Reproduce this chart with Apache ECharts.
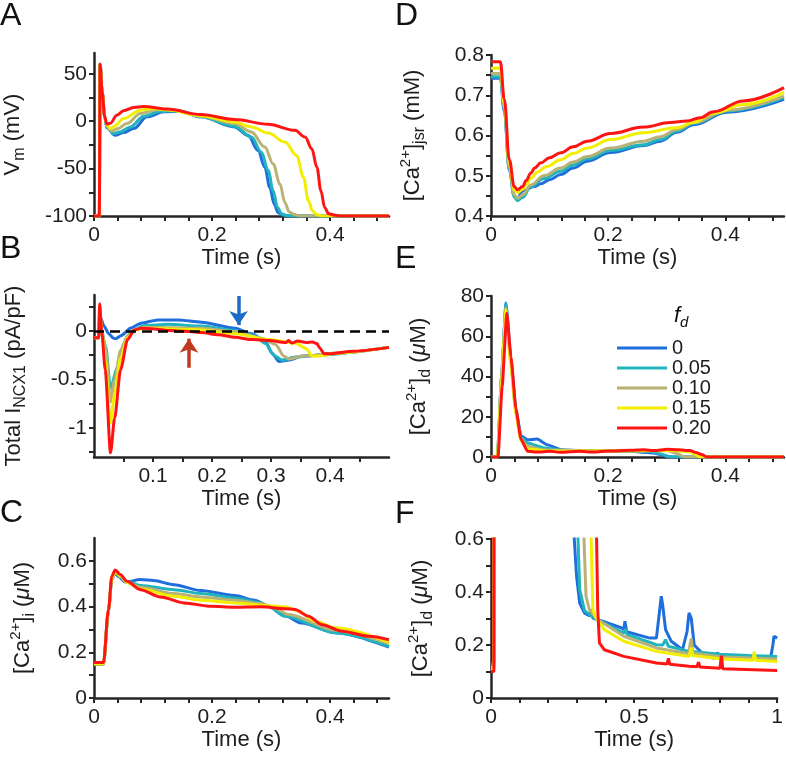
<!DOCTYPE html>
<html><head><meta charset="utf-8">
<script src="https://cdn.jsdelivr.net/npm/echarts@6/dist/echarts.min.js"></script>
<style>html,body{margin:0;padding:0;background:#fff}#c{width:786px;height:758px}</style>
</head><body><div id="c"></div>
<script>
// ---------- series names (f_d) ----------
const fdNames = ['0', '0.05', '0.10', '0.15', '0.20'];

// ---------- Panel A: Vm (mV) ----------
const A_f000 = [[0,-100],[0.009,-100],[0.0103,60],[0.014,30],[0.018,5],[0.022,-7],[0.0359,-14.9],[0.05,-12],[0.0672,-7.8],[0.09,4.6],[0.1185,9.9],[0.147,10.6],[0.1812,4.6],[0.2382,-6],[0.261,-14.9],[0.2781,-30.9],[0.2895,-48.6],[0.298,-69.9],[0.3054,-87.6],[0.3123,-96.5],[0.3208,-99.3],[0.335,-100],[0.5,-100]];
const A_f005 = [[0,-100],[0.009,-100],[0.0103,60],[0.014,30],[0.018,5],[0.022,-6],[0.033,-13],[0.045,-11],[0.0615,-6],[0.0843,5.3],[0.1128,10.6],[0.1413,11],[0.1812,4.6],[0.2382,-5.3],[0.2667,-16.7],[0.2838,-32.6],[0.2952,-52],[0.3037,-73.4],[0.3111,-91],[0.3179,-97.5],[0.3265,-99.5],[0.34,-100],[0.5,-100]];
const A_f010 = [[0,-100],[0.009,-100],[0.0103,60],[0.014,30],[0.018,5],[0.022,-5],[0.0302,-10.3],[0.04,-8],[0.0558,-2.5],[0.0786,8.2],[0.1071,12.4],[0.1356,11.7],[0.1812,5.3],[0.2382,-2.5],[0.2667,-11.3],[0.2895,-27.3],[0.3037,-45],[0.3151,-66.3],[0.3236,-85.8],[0.3305,-95.4],[0.3396,-98.5],[0.35,-100],[0.5,-100]];
const A_f015 = [[0,-100],[0.009,-100],[0.0103,60],[0.014,30],[0.018,5],[0.022,-4],[0.0274,-7.8],[0.035,-5],[0.0501,2.8],[0.0786,11.7],[0.1014,13.5],[0.1242,12],[0.1812,5.7],[0.2382,-0.7],[0.2667,-6],[0.2952,-12.4],[0.3236,-22],[0.3436,-36.2],[0.355,-59.2],[0.3635,-84],[0.3704,-94.7],[0.3778,-98.5],[0.387,-100],[0.5,-100]];
const A_f020 = [[0,-100],[0.009,-100],[0.0103,60],[0.014,30],[0.018,5],[0.0217,-3],[0.028,-2],[0.0387,6.4],[0.05,11],[0.0672,14.5],[0.0843,15.5],[0.1242,12.8],[0.1812,7],[0.2382,1.8],[0.2952,-3.2],[0.3407,-9.6],[0.3578,-16.7],[0.3692,-29],[0.3778,-48.6],[0.3846,-73.4],[0.3909,-91],[0.3977,-97.5],[0.4091,-99.3],[0.42,-100],[0.5,-100]];

// ---------- Panel B: total I_NCX1 (pA/pF) ----------
const B_f000 = [[0,-0.07],[0.008,-0.07],[0.0096,0.15],[0.012,0.12],[0.017,0.05],[0.025,-0.03],[0.033,-0.075],[0.0369,-0.08],[0.0455,-0.05],[0.0626,0.03],[0.0797,0.08],[0.1082,0.113],[0.1424,0.113],[0.1822,0.09],[0.2392,0.027],[0.2677,-0.03],[0.2905,-0.11],[0.3019,-0.23],[0.3133,-0.315],[0.3304,-0.3],[0.3532,-0.26],[0.4101,-0.23],[0.5,-0.17]];
const B_f005 = [[0,-0.07],[0.008,-0.07],[0.0096,0.2],[0.0113,0.045],[0.0198,-0.16],[0.028,-0.59],[0.0398,-0.37],[0.0512,-0.13],[0.0626,-0.007],[0.0854,0.055],[0.1253,0.068],[0.1822,0.05],[0.2392,0.003],[0.2734,-0.05],[0.2905,-0.13],[0.3047,-0.25],[0.319,-0.3],[0.3418,-0.27],[0.3817,-0.25],[0.5,-0.17]];
const B_f010 = [[0,-0.07],[0.008,-0.07],[0.0096,0.22],[0.013,0.0],[0.02,-0.2],[0.028,-0.73],[0.035,-0.5],[0.045,-0.2],[0.0569,-0.05],[0.0683,0.01],[0.0854,0.038],[0.1822,0.027],[0.2392,-0.007],[0.2848,-0.075],[0.3076,-0.14],[0.3219,-0.26],[0.3304,-0.29],[0.3532,-0.26],[0.4101,-0.23],[0.5,-0.17]];
const B_f015 = [[0,-0.07],[0.008,-0.07],[0.0096,0.25],[0.013,0.0],[0.019,-0.3],[0.028,-0.95],[0.035,-0.65],[0.045,-0.28],[0.0569,-0.07],[0.0683,0.01],[0.0854,0.027],[0.1822,0.01],[0.2392,-0.03],[0.2962,-0.09],[0.3418,-0.127],[0.3589,-0.18],[0.3703,-0.26],[0.3817,-0.26],[0.4101,-0.23],[0.5,-0.17]];
const B_f020 = [[0,-0.07],[0.008,-0.07],[0.0096,0.28],[0.013,0.0],[0.019,-0.4],[0.028,-1.257],[0.035,-0.9],[0.045,-0.4],[0.0569,-0.09],[0.0683,0.01],[0.0797,0.027],[0.1024,0.02],[0.1253,0.003],[0.1612,-0.005],[0.1822,-0.017],[0.2107,-0.04],[0.2392,-0.065],[0.2677,-0.09],[0.2962,-0.1],[0.3247,-0.12],[0.33,-0.1],[0.335,-0.125],[0.345,-0.105],[0.36,-0.12],[0.37,-0.115],[0.378,-0.13],[0.3817,-0.17],[0.3902,-0.236],[0.3988,-0.236],[0.4386,-0.21],[0.5,-0.17]];
// annotation arrows in panel B: [x, yStart, yEnd]
const B_arrowBlue = [0.245, 0.36, 0.06];
const B_arrowRed = [0.161, -0.38, -0.08];

// ---------- Panel C: [Ca2+]i (uM) ----------
const C_f000 = [[0,0.147],[0.016,0.147],[0.0245,0.38],[0.0302,0.52],[0.0359,0.545],[0.042,0.53],[0.053,0.507],[0.0786,0.518],[0.101,0.514],[0.1356,0.496],[0.181,0.47],[0.2382,0.448],[0.2724,0.428],[0.2952,0.401],[0.3236,0.36],[0.3521,0.328],[0.4091,0.285],[0.5,0.223]];
const C_f005 = [[0,0.148],[0.016,0.148],[0.0245,0.38],[0.0302,0.52],[0.0359,0.548],[0.045,0.53],[0.0558,0.51],[0.0786,0.492],[0.1356,0.474],[0.181,0.457],[0.2382,0.438],[0.2838,0.416],[0.2952,0.401],[0.3236,0.358],[0.4091,0.285],[0.5,0.226]];
const C_f010 = [[0,0.148],[0.016,0.148],[0.0245,0.38],[0.0302,0.52],[0.0359,0.55],[0.045,0.53],[0.0558,0.505],[0.0786,0.485],[0.1356,0.457],[0.181,0.442],[0.2382,0.428],[0.2838,0.412],[0.3066,0.394],[0.329,0.365],[0.4091,0.296],[0.5,0.238]];
const C_f015 = [[0,0.15],[0.016,0.15],[0.0245,0.385],[0.0302,0.525],[0.0359,0.555],[0.045,0.535],[0.0558,0.505],[0.0786,0.477],[0.1356,0.445],[0.181,0.428],[0.2382,0.416],[0.2952,0.404],[0.3236,0.399],[0.3464,0.38],[0.3749,0.336],[0.4091,0.307],[0.5,0.244]];
const C_f020 = [[0,0.155],[0.016,0.155],[0.0245,0.387],[0.0302,0.533],[0.0359,0.56],[0.0444,0.54],[0.0558,0.511],[0.0786,0.474],[0.1128,0.442],[0.1527,0.416],[0.1983,0.401],[0.2382,0.397],[0.2838,0.399],[0.3236,0.391],[0.3407,0.387],[0.3635,0.358],[0.3863,0.321],[0.4205,0.292],[0.466,0.27],[0.5,0.255]];

// ---------- Panel D: [Ca2+]jsr (mM) ----------
const D_f000 = [[0,0.742],[0.0159,0.742],[0.0227,0.66],[0.0312,0.515],[0.0397,0.45],[0.0453,0.443],[0.0538,0.462],[0.0737,0.473],[0.085,0.48],[0.1,0.49],[0.119,0.503],[0.14,0.519],[0.1643,0.536],[0.204,0.558],[0.2606,0.575],[0.289,0.586],[0.3173,0.608],[0.3456,0.627],[0.4023,0.658],[0.5,0.69]];
const D_f005 = [[0,0.746],[0.0159,0.746],[0.0227,0.665],[0.0312,0.515],[0.0397,0.447],[0.0453,0.438],[0.0538,0.446],[0.068,0.473],[0.09,0.493],[0.119,0.511],[0.14,0.527],[0.1643,0.542],[0.204,0.563],[0.2606,0.577],[0.289,0.59],[0.3173,0.611],[0.3456,0.63],[0.4023,0.661],[0.5,0.694]];
const D_f010 = [[0,0.754],[0.0159,0.754],[0.0227,0.67],[0.0312,0.52],[0.0397,0.452],[0.0453,0.444],[0.0538,0.452],[0.068,0.477],[0.09,0.5],[0.119,0.519],[0.14,0.534],[0.1643,0.548],[0.204,0.569],[0.2606,0.586],[0.289,0.597],[0.3173,0.615],[0.3456,0.632],[0.4023,0.663],[0.5,0.698]];
const D_f015 = [[0,0.767],[0.0159,0.767],[0.0227,0.68],[0.0312,0.53],[0.0397,0.465],[0.0453,0.458],[0.0538,0.466],[0.06,0.478],[0.068,0.494],[0.08,0.51],[0.095,0.523],[0.119,0.54],[0.14,0.555],[0.1643,0.569],[0.204,0.59],[0.2606,0.607],[0.3173,0.619],[0.3456,0.633],[0.3796,0.655],[0.4306,0.677],[0.5,0.707]];
const D_f020 = [[0,0.783],[0.0159,0.783],[0.0227,0.69],[0.0312,0.54],[0.0397,0.473],[0.0453,0.465],[0.0538,0.473],[0.06,0.488],[0.068,0.507],[0.075,0.52],[0.085,0.532],[0.1,0.545],[0.119,0.557],[0.14,0.572],[0.1643,0.586],[0.204,0.605],[0.2606,0.621],[0.306,0.632],[0.3343,0.636],[0.3569,0.644],[0.3796,0.659],[0.4306,0.686],[0.5,0.719]];

// ---------- Panel E: [Ca2+]d (uM), 0-0.5 s ----------
const E_f000 = [[0,0],[0.011,0],[0.018,40],[0.0255,76.5],[0.034,48],[0.0425,23.5],[0.051,10.5],[0.0623,8.6],[0.079,8.9],[0.096,6.1],[0.119,3.6],[0.176,2.8],[0.238,2.8],[0.278,2],[0.3,0.3],[0.317,0],[0.5,0]];
const E_f005 = [[0,0],[0.011,0],[0.018,40],[0.0255,76],[0.034,48],[0.0425,23],[0.051,10],[0.0623,6.9],[0.091,4.5],[0.13,3],[0.2,3],[0.27,2.8],[0.29,1.5],[0.306,0],[0.5,0]];
const E_f010 = [[0,0],[0.011,0],[0.018,39],[0.0255,74],[0.034,46],[0.0425,22],[0.051,9],[0.0623,5.3],[0.09,3.5],[0.2,3],[0.3,3.2],[0.32,1.5],[0.329,0],[0.5,0]];
const E_f015 = [[0,0],[0.011,0],[0.018,38],[0.0255,73],[0.034,45],[0.0425,21],[0.051,8],[0.0623,4],[0.1,3],[0.2,3],[0.31,3.3],[0.34,2.5],[0.357,0],[0.5,0]];
const E_f020 = [[0,0],[0.012,0],[0.019,35],[0.027,71.4],[0.034,50],[0.0425,24],[0.051,9],[0.0623,2.8],[0.08,2.5],[0.1,2.8],[0.12,2.3],[0.15,2.8],[0.176,2.5],[0.2,3],[0.238,3.3],[0.26,3.6],[0.28,3.2],[0.3,3.8],[0.32,3.6],[0.34,3.2],[0.35,2.2],[0.36,1.2],[0.368,0],[0.5,0]];

// ---------- Panel F: [Ca2+]d (uM), 0-1 s ----------
const F_f000 = [[0,0.13],[0.01,0.13],[0.012,20],[0.025,76],[0.05,10],[0.1,5],[0.2,2.8],[0.27,2],[0.291,0.6],[0.299,0.459],[0.31,0.358],[0.327,0.32],[0.345,0.31],[0.35,0.335],[0.356,0.302],[0.407,0.283],[0.455,0.265],[0.464,0.258],[0.468,0.29],[0.474,0.25],[0.555,0.226],[0.578,0.226],[0.586,0.3],[0.595,0.384],[0.6,0.35],[0.61,0.258],[0.63,0.214],[0.669,0.182],[0.685,0.25],[0.692,0.321],[0.7,0.3],[0.71,0.2],[0.715,0.2],[0.749,0.157],[0.78,0.15],[0.79,0.17],[0.806,0.157],[0.863,0.151],[0.92,0.151],[0.977,0.151],[0.985,0.2],[0.989,0.233],[1.0,0.226]];
const F_f005 = [[0,0.12],[0.01,0.12],[0.012,20],[0.025,76],[0.05,10],[0.1,4.5],[0.2,3],[0.28,2.5],[0.304,0.6],[0.31,0.409],[0.327,0.33],[0.35,0.31],[0.373,0.295],[0.464,0.245],[0.47,0.26],[0.475,0.24],[0.578,0.201],[0.6,0.2],[0.61,0.22],[0.62,0.195],[0.692,0.176],[0.8,0.165],[0.9,0.16],[1,0.157]];
const F_f010 = [[0,0.115],[0.01,0.115],[0.012,20],[0.025,74],[0.05,9],[0.1,3.5],[0.2,3],[0.3,3],[0.325,0.6],[0.332,0.384],[0.344,0.333],[0.373,0.296],[0.464,0.233],[0.578,0.189],[0.692,0.167],[0.695,0.2],[0.7,0.225],[0.705,0.17],[0.806,0.155],[1,0.147]];
const F_f015 = [[0,0.11],[0.01,0.11],[0.012,20],[0.025,73],[0.05,8],[0.1,3],[0.2,3],[0.33,3],[0.35,0.6],[0.356,0.333],[0.367,0.302],[0.396,0.258],[0.464,0.214],[0.578,0.176],[0.692,0.157],[0.7,0.19],[0.705,0.16],[0.806,0.147],[0.915,0.142],[0.92,0.175],[0.925,0.142],[1,0.138]];
const F_f020 = [[0,0.1],[0.01,0.1],[0.012,20],[0.027,71],[0.05,9],[0.1,2.8],[0.2,3],[0.34,3.2],[0.369,0.6],[0.373,0.333],[0.379,0.208],[0.396,0.182],[0.464,0.157],[0.578,0.132],[0.615,0.128],[0.62,0.15],[0.625,0.127],[0.692,0.12],[0.72,0.118],[0.725,0.135],[0.73,0.117],[0.8,0.112],[0.805,0.16],[0.81,0.11],[1,0.104]];

// ---------- tick values / labels ----------
const xTicks05 = [0,0.04,0.08,0.12,0.16,0.2,0.24,0.28,0.32,0.36,0.4,0.44,0.48];
const xLabels05 = [0,0.2,0.4];
const xTicksB = [0.05,0.1,0.15,0.2,0.25,0.3,0.35,0.4,0.45];
const xLabelsB = [0.1,0.2,0.3,0.4];
const xTicksF = [0,0.1,0.2,0.3,0.4,0.5,0.6,0.7,0.8,0.9,1];
const xLabelsF = [0,0.5,1];
const yTicksA = [-100,-75,-50,-25,0,25,50];
const yLabelsA = [-100,-50,0,50];
const yTicksB = [-1.25,-1,-0.75,-0.5,-0.25,0,0.25];
const yLabelsB = [-1,-0.5,0];
const yTicksC = [0,0.1,0.2,0.3,0.4,0.5,0.6];
const yLabelsC = [0,0.2,0.4,0.6];
const yTicksD = [0.4,0.45,0.5,0.55,0.6,0.65,0.7,0.75,0.8];
const yLabelsD = [0.4,0.5,0.6,0.7,0.8];
const yTicksE = [0,10,20,30,40,50,60,70,80];
const yLabelsE = [0,20,40,60,80];
const yTicksF = [0,0.1,0.2,0.3,0.4,0.5,0.6];
const yLabelsF = [0,0.2,0.4,0.6];

// ---------- styling ----------
const COLORS = ['#1f6edc', '#22b4bd', '#b8b274', '#f3ee00', '#ff1414'];
const FONT = '"Liberation Sans", Arial, Helvetica, sans-serif';
const TXT = '#1e1e1e';
const AX = '#262626';
const TICKFS = 21;
const NAMEFS = 22;

const chart = echarts.init(document.getElementById('c'), null, {renderer: 'canvas'});

const grids = [
  {left: 94, top: 53, width: 295, height: 163},   // A
  {left: 94, top: 295, width: 295, height: 162},  // B
  {left: 94, top: 538, width: 295, height: 160},  // C
  {left: 491, top: 55, width: 293, height: 161},  // D
  {left: 491, top: 296, width: 293, height: 161}, // E
  {left: 491, top: 539, width: 293, height: 159}  // F
];

const richBase = {
  n:   {fontSize: NAMEFS, lineHeight: 30, fontFamily: FONT, color: TXT, verticalAlign: 'middle'},
  sup: {fontSize: 15, lineHeight: 20, fontFamily: FONT, color: TXT, verticalAlign: 'top'},
  sub: {fontSize: 16, lineHeight: 18, fontFamily: FONT, color: TXT, verticalAlign: 'bottom'},
  mu:  {fontSize: NAMEFS, lineHeight: 30, fontFamily: FONT, color: TXT, fontStyle: 'italic', verticalAlign: 'middle'}
};

function xAxis(gi, min, max, ticks, labels, gap) {
  return {
    type: 'value', gridIndex: gi, min: min, max: max,
    name: 'Time (s)', nameLocation: 'middle', nameGap: gap,
    nameTextStyle: {fontSize: NAMEFS, fontFamily: FONT, color: TXT},
    axisLine: {show: true, onZero: false, lineStyle: {color: AX, width: 2.5}},
    axisTick: {show: true, inside: false, length: 5, lineStyle: {color: AX, width: 2}, customValues: ticks},
    axisLabel: {fontSize: TICKFS, fontFamily: FONT, color: TXT, margin: 9, customValues: labels},
    splitLine: {show: false}
  };
}
function yAxis(gi, min, max, ticks, labels, name, gap) {
  return {
    type: 'value', gridIndex: gi, min: min, max: max,
    name: name, nameLocation: 'middle', nameRotate: 90, nameGap: gap,
    nameTextStyle: {fontSize: NAMEFS, fontFamily: FONT, color: TXT, rich: richBase},
    axisLine: {show: true, onZero: false, lineStyle: {color: AX, width: 2.5}},
    axisTick: {show: true, inside: false, length: 5, lineStyle: {color: AX, width: 2}, customValues: ticks},
    axisLabel: {fontSize: TICKFS, fontFamily: FONT, color: TXT, margin: 7, customValues: labels},
    splitLine: {show: false}
  };
}

const xAxes = [
  xAxis(0, 0, 0.5, xTicks05, xLabels05, 31),
  xAxis(1, 0, 0.5, xTicksB, xLabelsB, 31),
  xAxis(2, 0, 0.5, xTicks05, xLabels05, 31),
  xAxis(3, 0, 0.5, xTicks05, xLabels05, 31),
  xAxis(4, 0, 0.5, xTicks05, xLabels05, 31),
  xAxis(5, 0, 1, xTicksF, xLabelsF, 31)
];
const yAxes = [
  yAxis(0, -100, 72, yTicksA, yLabelsA, '{n|V}{sub|m}{n| (mV)}', 66),
  yAxis(1, -1.3, 0.37, yTicksB, yLabelsB, '{n|Total I}{sub|NCX1}{n| (pA/pF)}', 65),
  yAxis(2, 0, 0.7, yTicksC, yLabelsC, '{n|[Ca}{sup|2+}{n|]}{sub|i}{n| (}{mu|μ}{n|M)}', 56),
  yAxis(3, 0.4, 0.8, yTicksD, yLabelsD, '{n|[Ca}{sup|2+}{n|]}{sub|jsr}{n| (mM)}', 63),
  yAxis(4, 0, 80, yTicksE, yLabelsE, '{n|[Ca}{sup|2+}{n|]}{sub|d}{n| (}{mu|μ}{n|M)}', 57),
  yAxis(5, 0, 0.6, yTicksF, yLabelsF, '{n|[Ca}{sup|2+}{n|]}{sub|d}{n| (}{mu|μ}{n|M)}', 55)
];

const panelData = [
  [A_f000, A_f005, A_f010, A_f015, A_f020],
  [B_f000, B_f005, B_f010, B_f015, B_f020],
  [C_f000, C_f005, C_f010, C_f015, C_f020],
  [D_f000, D_f005, D_f010, D_f015, D_f020],
  [E_f000, E_f005, E_f010, E_f015, E_f020],
  [F_f000, F_f005, F_f010, F_f015, F_f020]
];
const smoothBy = [0.35, 0.25, 0.3, 0.4, 0.15, 0];

const series = [];
panelData.forEach(function (sets, p) {
  sets.forEach(function (d, k) {
    const s = {
      type: 'line', name: fdNames[k], xAxisIndex: p, yAxisIndex: p,
      data: d, showSymbol: false, symbol: 'none', clip: true,
      smooth: smoothBy[p], smoothMonotone: 'x',
      color: COLORS[k],
      lineStyle: {color: COLORS[k], width: 3},
      itemStyle: {color: COLORS[k]},
      silent: true, z: 2 + k
    };
    if (p === 1 && k === 4) {
      const blueArrow = {color: '#1b6cc6', width: 3.5, type: 'solid'};
      const redArrow = {color: '#bf3a1e', width: 3.5, type: 'solid'};
      s.markLine = {
        silent: true, animation: false, z: 10,
        symbol: ['none', 'none'],
        label: {show: false},
        emphasis: {disabled: true},
        data: [
          {yAxis: 0, lineStyle: {color: '#000', width: 2.5, type: [10, 6]}},
          [
            {coord: [B_arrowBlue[0], B_arrowBlue[1]], symbol: 'none', lineStyle: blueArrow},
            {coord: [B_arrowBlue[0], B_arrowBlue[2]], symbol: 'arrow', symbolSize: [14, 14], lineStyle: blueArrow, itemStyle: {color: '#1b6cc6'}}
          ],
          [
            {coord: [B_arrowRed[0], B_arrowRed[1]], symbol: 'none', lineStyle: redArrow},
            {coord: [B_arrowRed[0], B_arrowRed[2]], symbol: 'arrow', symbolSize: [14, 14], lineStyle: redArrow, itemStyle: {color: '#bf3a1e'}}
          ]
        ]
      };
    }
    series.push(s);
  });
});

const letters = [['A', 0, 0], ['B', 0, 233], ['C', 0, 497], ['D', 395, 0], ['E', 395, 243], ['F', 395, 498]];
const graphics = letters.map(function (l) {
  return {type: 'text', left: l[1], top: l[2], silent: true,
    style: {text: l[0], fontSize: 32, fontFamily: FONT, fill: '#111'}};
});
graphics.push({
  type: 'text', left: 674, top: 305, silent: true,
  style: {
    text: '{f|f}{d|d}',
    rich: {
      f: {fontSize: 22, fontStyle: 'italic', fontFamily: FONT, fill: '#111', lineHeight: 28, verticalAlign: 'middle'},
      d: {fontSize: 15, fontStyle: 'italic', fontFamily: FONT, fill: '#111', lineHeight: 18, verticalAlign: 'bottom'}
    }
  }
});

chart.setOption({
  animation: false,
  backgroundColor: '#fff',
  grid: grids,
  xAxis: xAxes,
  yAxis: yAxes,
  legend: {
    show: true, orient: 'vertical', left: 617, top: 338,
    itemWidth: 50, itemHeight: 3, itemGap: 0, icon: 'rect',
    selectedMode: false, padding: 0,
    data: fdNames,
    textStyle: {fontSize: 20, lineHeight: 19.6, fontFamily: FONT, color: TXT}
  },
  series: series,
  graphic: graphics
});
</script></body></html>
